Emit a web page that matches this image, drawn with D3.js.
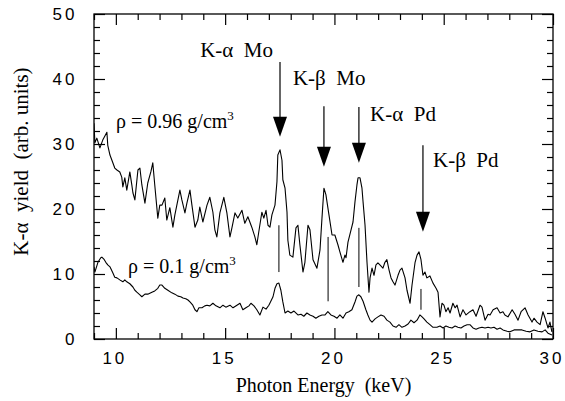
<!DOCTYPE html>
<html>
<head>
<meta charset="utf-8">
<script src="https://cdn.jsdelivr.net/npm/d3@7"></script>
<style>
  body { margin: 0; background: #fff; }
  svg text { fill: #000; }
</style>
</head>
<body>
<div id="chart"></div>
<script>
// spectrum: rho = 0.96 g/cm3 (upper trace)
const energyHigh = [9.0, 9.04, 9.13, 9.27, 9.40, 9.59, 9.63, 9.73, 9.82, 9.95, 10.05, 10.18, 10.27, 10.32, 10.41, 10.50, 10.64, 10.73, 10.78, 10.87,
  11.01, 11.10, 11.19, 11.33, 11.46, 11.60, 11.69, 11.78, 11.92, 12.01, 12.11, 12.24, 12.33, 12.47, 12.61, 12.70, 12.79, 12.93, 13.02, 13.16,
  13.25, 13.39, 13.48, 13.62, 13.75, 13.84, 13.98, 14.17, 14.30, 14.44, 14.53, 14.62, 14.76, 14.85, 14.94, 15.08, 15.22, 15.31, 15.45, 15.58,
  15.77, 15.90, 16.04, 16.22, 16.36, 16.45, 16.54, 16.68, 16.77, 16.87, 16.96, 17.05, 17.14, 17.28, 17.37, 17.41, 17.51, 17.60, 17.64, 17.74,
  17.83, 17.87, 17.96, 18.10, 18.24, 18.33, 18.42, 18.56, 18.65, 18.79, 18.88, 19.02, 19.20, 19.34, 19.43, 19.52, 19.61, 19.75, 19.89, 20.02,
  20.16, 20.25, 20.39, 20.48, 20.53, 20.62, 20.76, 20.85, 20.94, 21.03, 21.08, 21.17, 21.26, 21.31, 21.40, 21.49, 21.58, 21.63, 21.72, 21.81,
  21.90, 21.99, 22.08, 22.22, 22.31, 22.40, 22.50, 22.59, 22.68, 22.77, 22.91, 23.00, 23.09, 23.23, 23.32, 23.46, 23.55, 23.69, 23.78, 23.87,
  23.96, 24.05, 24.14, 24.23, 24.37, 24.51, 24.65, 24.74, 24.83, 24.92, 25.01, 25.10, 25.20, 25.29, 25.42, 25.52, 25.61, 25.75, 25.88, 26.02,
  26.20, 26.34, 26.48, 26.66, 26.75, 26.89, 27.03, 27.12, 27.26, 27.44, 27.58, 27.71, 27.80, 27.94, 28.13, 28.26, 28.40, 28.54, 28.72, 28.86,
  29.04, 29.13, 29.27, 29.41, 29.54, 29.64, 29.77, 29.86, 29.95];
const yieldHigh = [33.2, 30.2, 30.9, 29.4, 30.6, 31.8, 29.8, 28.3, 27.5, 26.3, 26.0, 25.7, 24.9, 23.4, 24.8, 22.9, 25.7, 23.7, 22.5, 21.4,
  26.0, 26.3, 23.7, 20.9, 24.0, 25.7, 27.1, 23.7, 18.6, 20.6, 20.6, 21.7, 18.3, 20.2, 17.2, 19.1, 20.6, 22.9, 21.4, 19.4,
  20.9, 22.9, 20.6, 17.2, 18.3, 20.3, 18.0, 20.6, 21.8, 19.5, 16.8, 15.7, 19.4, 20.6, 21.8, 19.4, 15.7, 17.1, 19.4, 18.6,
  19.8, 17.8, 18.8, 17.2, 15.7, 14.5, 16.5, 19.5, 18.6, 19.8, 17.5, 17.2, 19.1, 20.6, 24.2, 28.3, 29.1, 27.5, 24.5, 23.2,
  19.5, 15.2, 12.9, 12.6, 17.1, 17.5, 14.5, 10.3, 11.8, 17.5, 16.8, 12.2, 10.9, 13.7, 18.6, 23.2, 22.2, 19.1, 16.0, 16.0,
  14.5, 13.4, 11.8, 12.9, 12.5, 14.9, 16.8, 18.0, 21.1, 23.7, 24.8, 24.8, 23.2, 21.1, 17.5, 11.8, 7.2, 9.4, 10.9, 9.8,
  11.4, 11.7, 11.4, 10.9, 11.8, 12.2, 10.6, 9.4, 8.8, 8.3, 9.8, 10.6, 10.9, 9.4, 7.5, 5.5, 8.3, 11.8, 12.9, 13.4,
  12.2, 9.8, 10.3, 9.4, 9.7, 8.6, 7.8, 7.2, 3.4, 5.5, 5.2, 4.2, 4.8, 4.0, 5.5, 4.8, 5.2, 3.4, 4.5, 3.7,
  4.2, 4.5, 3.5, 5.2, 4.9, 2.9, 3.8, 3.7, 4.5, 4.8, 4.0, 4.2, 3.7, 3.4, 4.5, 3.8, 2.9, 4.2, 4.8, 3.7,
  2.6, 3.2, 2.6, 2.2, 4.2, 3.2, 1.7, 2.6, 1.1];

// rho = 0.1 g/cm3 (lower trace)
const energyLow = [9.0, 9.04, 9.18, 9.31, 9.36, 9.45, 9.54, 9.63, 9.73, 9.86, 9.95, 10.05, 10.18, 10.32, 10.41, 10.50, 10.64, 10.78, 10.87, 10.96,
  11.10, 11.19, 11.33, 11.46, 11.65, 11.78, 11.92, 12.01, 12.11, 12.24, 12.38, 12.56, 12.70, 12.84, 12.97, 13.07, 13.20, 13.30, 13.39, 13.52,
  13.62, 13.71, 13.80, 13.94, 14.07, 14.17, 14.30, 14.44, 14.58, 14.76, 14.90, 15.03, 15.22, 15.36, 15.54, 15.68, 15.81, 15.95, 16.09, 16.18,
  16.32, 16.45, 16.59, 16.73, 16.87, 17.00, 17.09, 17.19, 17.28, 17.37, 17.46, 17.55, 17.64, 17.74, 17.87, 18.01, 18.15, 18.33, 18.47, 18.60,
  18.74, 18.88, 19.02, 19.15, 19.29, 19.43, 19.57, 19.70, 19.84, 19.98, 20.12, 20.25, 20.39, 20.53, 20.66, 20.80, 20.94, 21.03, 21.12, 21.21,
  21.31, 21.44, 21.53, 21.63, 21.72, 21.86, 21.99, 22.13, 22.27, 22.40, 22.54, 22.68, 22.82, 22.95, 23.09, 23.23, 23.37, 23.50, 23.64, 23.78,
  23.91, 24.01, 24.10, 24.23, 24.37, 24.51, 24.69, 24.83, 24.97, 25.10, 25.24, 25.38, 25.52, 25.65, 25.79, 25.93, 26.07, 26.20, 26.34, 26.48,
  26.61, 26.75, 26.89, 27.03, 27.16, 27.30, 27.44, 27.58, 27.71, 27.90, 28.03, 28.22, 28.40, 28.58, 28.77, 28.95, 29.13, 29.31, 29.50, 29.64,
  29.77, 29.95];
const yieldLow = [11.1, 10.3, 11.8, 12.5, 12.6, 12.3, 11.8, 11.4, 11.1, 10.2, 9.5, 9.4, 9.1, 8.8, 9.1, 8.8, 8.5, 8.0, 7.5, 7.2,
  6.8, 6.5, 6.9, 6.9, 7.2, 7.4, 7.8, 8.3, 8.3, 7.8, 7.5, 7.1, 6.9, 6.6, 6.5, 6.3, 6.2, 6.0, 5.7, 5.2,
  4.5, 4.2, 4.8, 4.8, 5.1, 5.2, 5.1, 5.5, 5.1, 4.8, 5.2, 4.9, 5.2, 4.8, 5.2, 5.5, 4.5, 4.8, 5.1, 5.5,
  5.1, 4.5, 3.7, 4.9, 4.6, 5.2, 5.8, 6.5, 7.8, 8.5, 8.6, 7.5, 5.7, 4.0, 4.3, 4.0, 4.3, 3.7, 3.8, 3.5,
  4.0, 3.7, 3.5, 3.2, 3.5, 3.7, 3.7, 4.2, 3.7, 3.5, 3.2, 3.7, 3.2, 4.0, 4.2, 4.5, 5.7, 6.6, 6.8, 6.5,
  5.8, 4.5, 3.7, 2.9, 2.6, 3.1, 3.4, 3.7, 3.5, 2.9, 2.6, 2.0, 1.8, 2.2, 1.8, 2.0, 2.3, 2.9, 2.5, 2.9,
  3.7, 3.4, 3.1, 2.6, 2.2, 1.8, 1.8, 2.0, 1.7, 2.0, 1.8, 1.7, 2.0, 1.8, 1.7, 2.0, 2.2, 2.2, 1.7, 1.5,
  1.7, 1.8, 1.7, 1.8, 1.7, 1.8, 1.5, 1.7, 1.4, 1.2, 1.1, 1.4, 1.4, 1.4, 1.2, 1.1, 1.4, 1.2, 1.1, 1.4,
  0.9, 0.6];

// fluorescence lines: arrows and short vertical markers
const peakNames = ["K-α  Mo", "K-β  Mo", "K-α  Pd", "K-β  Pd"];
const arrowEnergy = [17.51, 19.52, 21.12, 24.05];
const arrowTop = [42.6, 35.8, 35.7, 29.8];
const arrowTip = [31.1, 26.5, 27.1, 16.5];
const markerEnergy = [17.46, 19.71, 21.12, 23.96];
const markerTop = [17.5, 15.7, 17.1, 7.7];
const markerBottom = [10.3, 5.8, 8.0, 4.5];

const xMajor = [10, 15, 20, 25, 30];
const yMajor = [0, 10, 20, 30, 40, 50];

const W = 565, H = 401;
const margin = {top: 14, right: 12, bottom: 62, left: 94};
const serif = 'Liberation Serif, Times New Roman, serif';

const svg = d3.select('#chart').append('svg')
    .attr('width', W)
    .attr('height', H);

const x = d3.scaleLinear().domain([9, 30]).range([margin.left, W - margin.right]);
const y = d3.scaleLinear().domain([0, 50]).range([H - margin.bottom, margin.top]);

const xMinor = d3.range(9, 31).filter(v => !xMajor.includes(v));
const yMinor = d3.range(0, 51, 2).filter(v => !yMajor.includes(v));

const tickFont = g => g.selectAll('text')
    .attr('font-family', 'Liberation Sans, Arial, sans-serif')
    .attr('font-size', 17)
    .attr('letter-spacing', 3);
const noDomain = g => g.select('.domain').remove();

// ticks on all four sides, pointing inward
[[d3.axisBottom, `translate(0,${y(0)})`, x, xMajor, xMinor],
 [d3.axisTop, `translate(0,${y(50)})`, x, xMajor, xMinor],
 [d3.axisLeft, `translate(${x(9)},0)`, y, yMajor, yMinor],
 [d3.axisRight, `translate(${x(30)},0)`, y, yMajor, yMinor]].forEach(([ax, tr, sc, maj, min], i) => {
    svg.append('g').attr('transform', tr)
        .call(ax(sc).tickValues(min).tickSize(-6).tickFormat(''))
        .call(noDomain);
    svg.append('g').attr('transform', tr)
        .call(ax(sc).tickValues(maj).tickSize(-11).tickPadding(i == 0 ? 13 : 15)
            .tickFormat(i < 1 || i == 2 ? d3.format('d') : ''))
        .call(noDomain)
        .call(tickFont);
    svg.selectAll('.tick line').attr('stroke', '#000').attr('stroke-width', 1.2);
});

// letter-spacing leaves a trailing gap; pull labels back
svg.selectAll('.tick text').filter(function() { return this.getAttribute('text-anchor') != 'end'; })
    .attr('dx', -1.5);
svg.selectAll('.tick text').filter(function() { return this.getAttribute('text-anchor') == 'end'; })
    .attr('dx', 3);

svg.append('rect')
    .attr('x', x(9)).attr('y', y(50))
    .attr('width', x(30) - x(9)).attr('height', y(0) - y(50))
    .attr('fill', 'none').attr('stroke', '#000').attr('stroke-width', 1.3);

svg.append('clipPath').attr('id', 'plot')
    .append('rect')
    .attr('x', x(9)).attr('y', y(50))
    .attr('width', x(30) - x(9)).attr('height', y(0) - y(50));

const line = d3.line().x(d => x(d[0])).y(d => y(d[1]));
const curves = [d3.zip(energyHigh, yieldHigh), d3.zip(energyLow, yieldLow)];
svg.append('g').attr('clip-path', 'url(#plot)')
    .selectAll('path')
    .data(curves)
    .join('path')
    .attr('d', line)
    .attr('fill', 'none')
    .attr('stroke', '#000')
    .attr('stroke-width', 1.1)
    .attr('stroke-linejoin', 'round');

// thin vertical markers under the peaks
svg.append('g').selectAll('line')
    .data(markerEnergy)
    .join('line')
    .attr('x1', d => x(d)).attr('x2', d => x(d))
    .attr('y1', (d, i) => y(markerTop[i]))
    .attr('y2', (d, i) => y(markerBottom[i]))
    .attr('stroke', '#000').attr('stroke-width', 1);

// arrows
const arrows = svg.append('g');
arrowEnergy.forEach((e, i) => {
    const ax = x(e), top = y(arrowTop[i]), tip = y(arrowTip[i]);
    arrows.append('line')
        .attr('x1', ax).attr('x2', ax)
        .attr('y1', top).attr('y2', tip - 18)
        .attr('stroke', '#000').attr('stroke-width', 1.2);
    arrows.append('path')
        .attr('d', `M${ax - 7},${tip - 20}L${ax + 7},${tip - 20}L${ax},${tip}Z`)
        .attr('fill', '#000');
});

// labels (anchor in keV / yield units)
const labelAt = [[17.19, 43.4, 'end'], [18.10, 39.1, 'start'], [21.63, 33.5, 'start'], [24.51, 26.5, 'start']];
svg.append('g').selectAll('text')
    .data(peakNames)
    .join('text')
    .attr('x', (d, i) => x(labelAt[i][0]))
    .attr('y', (d, i) => y(labelAt[i][1]))
    .attr('text-anchor', (d, i) => labelAt[i][2])
    .attr('font-family', serif)
    .attr('font-size', 21)
    .style('white-space', 'pre')
    .text(d => d);

const densityLabels = [["ρ = 0.96 g/cm", 10.01, 32.5], ["ρ = 0.1 g/cm", 10.56, 10.2]];
densityLabels.forEach(([t, e, v]) => {
    const txt = svg.append('text')
        .attr('x', x(e)).attr('y', y(v))
        .attr('font-family', serif)
        .attr('font-size', 20);
    txt.append('tspan').text(t);
    txt.append('tspan').attr('font-size', 13).attr('dy', -8).text('3');
});

svg.append('text')
    .attr('x', (x(9) + x(30)) / 2).attr('y', 392)
    .attr('text-anchor', 'middle')
    .attr('font-family', serif)
    .attr('font-size', 20)
    .style('white-space', 'pre')
    .text('Photon Energy  (keV)');

svg.append('text')
    .attr('transform', `translate(28,${y(27.3)}) rotate(-90)`)
    .attr('text-anchor', 'middle')
    .attr('font-family', serif)
    .attr('font-size', 21)
    .style('white-space', 'pre')
    .text('K-α  yield  (arb. units)');
</script>
</body>
</html>
